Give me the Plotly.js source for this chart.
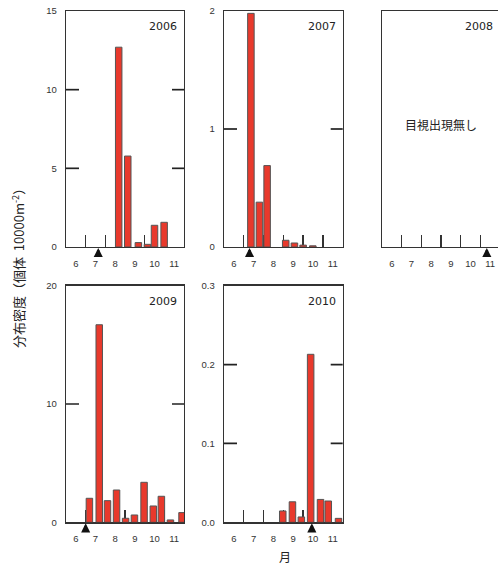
<!DOCTYPE html>
<html>
<head>
<meta charset="utf-8">
<script src="https://cdn.plot.ly/plotly-3.0.1.min.js"></script>
<style>
html,body{margin:0;padding:0;overflow:hidden;background:#fff;}
#chart{width:510px;height:568px;}
</style>
</head>
<body>
<div id="chart"></div>
<script>
// ---- data ----
const monthTicks = [6, 7, 8, 9, 10, 11];
const monthLabels = ['6', '7', '8', '9', '10', '11'];
const monthBounds = [6.5, 7.5, 8.5, 9.5, 10.5];

const years = ['2006', '2007', '2008', '2009', '2010'];

const x2006 = [8.18, 8.64, 9.18, 9.64, 10.0, 10.49];
const y2006 = [12.7, 5.78, 0.28, 0.17, 1.38, 1.57];

const x2007 = [6.86, 7.29, 7.68, 8.62, 9.06, 9.50, 9.99];
const y2007 = [1.98, 0.38, 0.69, 0.057, 0.034, 0.016, 0.01];

const x2008 = [];
const y2008 = [];

const x2009 = [6.69, 7.19, 7.61, 8.07, 8.53, 8.98, 9.47, 9.94, 10.35, 10.81, 11.40];
const y2009 = [2.03, 16.7, 1.83, 2.73, 0.34, 0.62, 3.38, 1.38, 2.2, 0.2, 0.82];

const x2010 = [8.47, 8.96, 9.41, 9.88, 10.38, 10.77, 11.29];
const y2010 = [0.0144, 0.026, 0.0068, 0.213, 0.029, 0.027, 0.005];

const arrowMonth = [7.14, 6.79, 10.83, 6.5, 9.94];

const yTickVals = [[0, 5, 10, 15], [0, 1, 2], [], [0, 10, 20], [0, 0.1, 0.2, 0.3]];
const yTickText = [['0', '5', '10', '15'], ['0', '1', '2'], [], ['0', '10', '20'], ['0.0', '0.1', '0.2', '0.3']];
const yMax = [15, 2, 1, 20, 0.3];

const noSightingText = '目視出現無し';
const yTitleText = '分布密度（個体  10000m<sup>-2</sup>）';
const xTitleText = '月';

// ---- layout ----
const W = 510, H = 568;
const colPx = [[66, 184], [224, 342.7], [382, 500]];
const rowPx = [[11, 247], [285.7, 522.3]];
const cells = [[0, 0], [0, 1], [0, 2], [1, 0], [1, 1]];

const xs = [x2006, x2007, x2008, x2009, x2010];
const ys = [y2006, y2007, y2008, y2009, y2010];

const tickFont = {family: 'Liberation Sans, Arial, sans-serif', size: 9.5, color: '#333'};
const lineColor = '#333';
const TICKLEN = 12;

const data = [];
const layout = {
  width: W, height: H,
  margin: {l: 0, r: 0, t: 0, b: 0},
  paper_bgcolor: '#fff', plot_bgcolor: 'rgba(0,0,0,0)',
  showlegend: false,
  bargap: 0,
  annotations: [],
  shapes: [],
};

cells.forEach((rc, i) => {
  const n = i + 1;
  const xa = 'xaxis' + (n === 1 ? '' : n);
  const ya = 'yaxis' + (n === 1 ? '' : n);
  const xr = 'x' + (n === 1 ? '' : n);
  const yr = 'y' + (n === 1 ? '' : n);
  const c = colPx[rc[1]], r = rowPx[rc[0]];
  data.push({
    type: 'bar', x: xs[i], y: ys[i], xaxis: xr, yaxis: yr,
    width: 0.33,
    marker: {color: '#e8392c', line: {color: '#555', width: 1}},
    hoverinfo: 'skip'
  });
  layout[xa] = {
    domain: [c[0] / W, c[1] / W],
    anchor: yr,
    range: [5.5, 11.5],
    tickmode: 'array', tickvals: monthTicks, ticktext: monthLabels,
    ticks: '', showgrid: false, zeroline: false,
    showline: true, linecolor: lineColor, linewidth: 1.3, mirror: true,
    tickfont: tickFont, ticklabelstandoff: 7,
    minor: {tickmode: 'array', tickvals: monthBounds, ticks: 'inside', ticklen: TICKLEN, tickwidth: 1.3, tickcolor: lineColor, showgrid: false},
    layer: 'below traces',
    fixedrange: true
  };
  const hasY = yTickVals[i].length > 0;
  layout[ya] = {
    domain: [1 - r[1] / H, 1 - r[0] / H],
    anchor: xr,
    range: [0, yMax[i]],
    tickmode: 'array', tickvals: yTickVals[i], ticktext: yTickText[i],
    showticklabels: hasY,
    ticks: '',
    showgrid: false, zeroline: false,
    showline: true, linecolor: lineColor, linewidth: 1.3, mirror: true,
    tickfont: tickFont, ticklabelstandoff: 6,
    fixedrange: true
  };
  // inner y tick marks on both sides, placed on the y scale at each interior tick value
  yTickVals[i].filter(v => v > 0 && v < yMax[i]).forEach(v => {
    layout.shapes.push({
      type: 'line', xref: xr + ' domain', yref: yr,
      xsizemode: 'pixel', xanchor: 0, x0: 0, x1: TICKLEN + 1,
      y0: v, y1: v,
      line: {color: '#222', width: 1.7}
    });
    layout.shapes.push({
      type: 'line', xref: xr + ' domain', yref: yr,
      xsizemode: 'pixel', xanchor: 1, x0: -TICKLEN, x1: 0,
      y0: v, y1: v,
      line: {color: '#222', width: 1.7}
    });
  });
  layout.annotations.push({
    xref: xr + ' domain', yref: yr + ' domain', x: 1, y: 1,
    xanchor: 'right', yanchor: 'top', xshift: -5, yshift: -7,
    text: years[i], showarrow: false,
    font: {family: 'DejaVu Sans, sans-serif', size: 11, color: '#222'}
  });
  layout.annotations.push({
    xref: xr, yref: yr, x: arrowMonth[i], y: 0,
    ax: 0, ay: 10, axref: 'pixel', ayref: 'pixel',
    text: '', showarrow: true, arrowhead: 2, arrowsize: 0.7, arrowwidth: 2.6,
    arrowcolor: '#111', standoff: 1
  });
});

layout.annotations.push({
  xref: 'x3 domain', yref: 'y3 domain', x: 0.5, y: 0.517,
  xanchor: 'center', yanchor: 'middle',
  text: noSightingText, showarrow: false,
  font: {family: 'Noto Sans CJK JP, sans-serif', size: 12, color: '#222'}
});
layout.annotations.push({
  xref: 'paper', yref: 'paper', x: 18 / W, y: 1 - 265 / H,
  xanchor: 'center', yanchor: 'middle', textangle: -90,
  text: yTitleText, showarrow: false,
  font: {family: 'Noto Sans CJK JP, sans-serif', size: 13, color: '#222'}
});
layout.annotations.push({
  xref: 'paper', yref: 'paper', x: 285 / W, y: 0,
  xanchor: 'center', yanchor: 'bottom', yshift: 1,
  text: xTitleText, showarrow: false,
  font: {family: 'Noto Sans CJK JP, sans-serif', size: 12, color: '#222'}
});

Plotly.newPlot('chart', data, layout, {staticPlot: true, displayModeBar: false});
</script>
</body>
</html>
